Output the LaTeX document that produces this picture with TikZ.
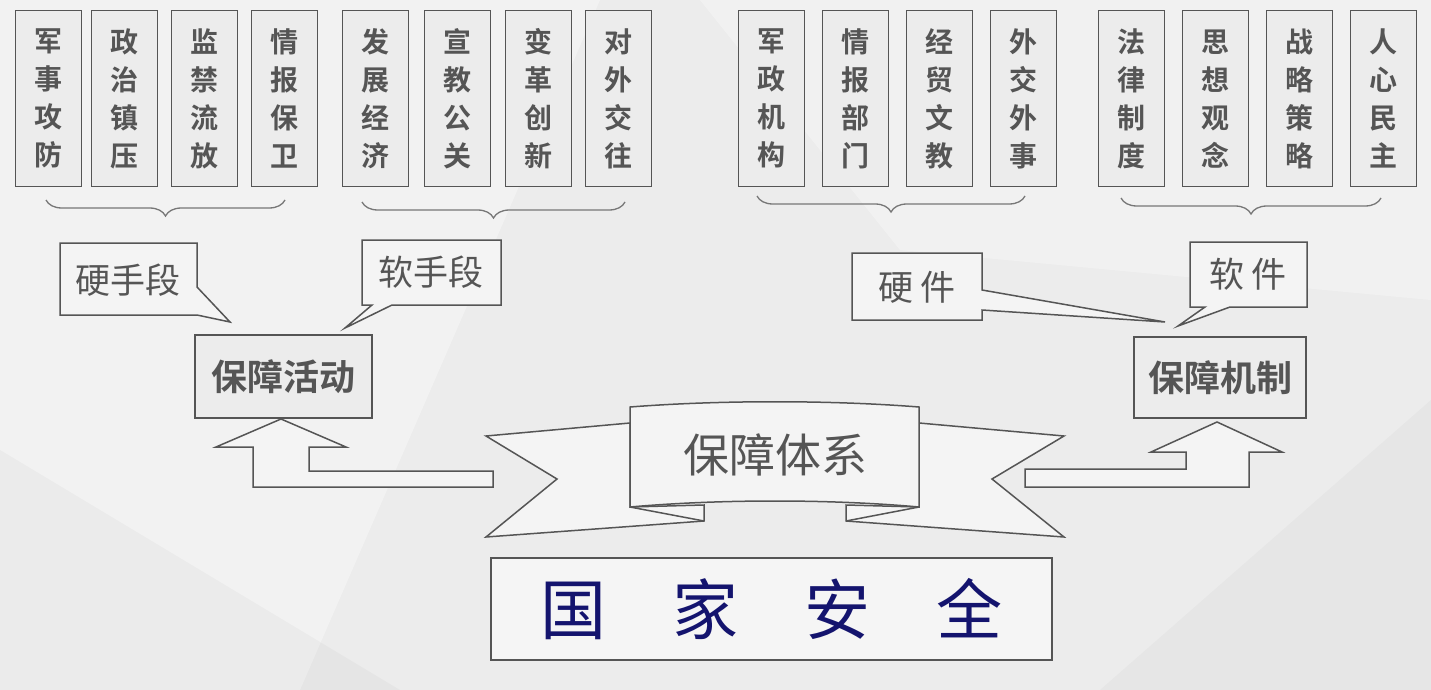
\documentclass[tikz,border=0pt]{standalone}
\usepackage{fontspec}
\setmainfont{Noto Sans CJK SC}
\newfontfamily\cjkb{Noto Sans CJK SC Bold}
\usetikzlibrary{decorations.pathreplacing}
\definecolor{ln}{RGB}{85,85,85}
\definecolor{bg}{RGB}{236,236,236}
\definecolor{navy}{RGB}{20,20,110}
\tikzset{
 vbox/.style={draw=ln,line width=1.3pt,fill=bg,minimum width=66pt,minimum height=176pt,inner sep=0pt,text=ln,align=center,font=\cjkb\fontsize{28}{38}\selectfont},
 shape line/.style={draw=ln,line width=1.5pt,fill=bg!60!white},
 brace line/.style={draw=ln!80,line width=1.3pt,decorate,decoration={brace,mirror,amplitude=16pt}},
 lbl/.style={inner sep=0pt,text=ln}
}
\begin{document}
\begin{tikzpicture}[x=1pt,y=-1pt]
\useasboundingbox (0,0) rectangle (1431,690);
\fill[bg] (0,0) rectangle (1431,690);
\fill[white,opacity=0.35] (0,0) -- (600,0) -- (300,690) -- (0,690) -- cycle;
\fill[white,opacity=0.3] (700,0) -- (1431,0) -- (1431,300) -- (900,250) -- cycle;
\fill[gray,opacity=0.06] (0,450) -- (400,690) -- (0,690) -- cycle;
\fill[gray,opacity=0.05] (1100,690) -- (1431,400) -- (1431,690) -- cycle;
% top boxes
\foreach \x/\t [count=\i] in {15/军\\事\\攻\\防,91/政\\治\\镇\\压,171/监\\禁\\流\\放,251/情\\报\\保\\卫,342/发\\展\\经\\济,424/宣\\教\\公\\关,505/变\\革\\创\\新,585/对\\外\\交\\往,738/军\\政\\机\\构,822/情\\报\\部\\门,906/经\\贸\\文\\教,990/外\\交\\外\\事,1098/法\\律\\制\\度,1182/思\\想\\观\\念,1266/战\\略\\策\\略,1350/人\\心\\民\\主}
  \node[vbox,anchor=north west] (b\i) at (\x,10) {\t};
% braces
\draw[brace line] (46,200) -- (285,200);
\draw[brace line] (362,202) -- (625,202);
\draw[brace line] (757,196) -- (1025,196);
\draw[brace line] (1121,198) -- (1381,198);
% callouts
\draw[shape line] (60,243) -- (197,243) -- (197,287) -- (230,322) -- (197,315) -- (60,315) -- cycle;
\node[lbl,font=\fontsize{35}{35}\selectfont] (c1) at (128,280) {硬手段};
\draw[shape line] (362,240) -- (501,240) -- (501,305) -- (392,305) -- (345,328) -- (372,305) -- (362,305) -- cycle;
\node[lbl,font=\fontsize{35}{35}\selectfont] (c2) at (431,272) {软手段};
\draw[shape line] (852,253) -- (982,253) -- (982,290) -- (1165,322) -- (982,310) -- (982,320) -- (852,320) -- cycle;
\node[lbl,font=\fontsize{35}{35}\selectfont] (c3) at (917,287) {硬\ 件};
\draw[shape line] (1190,242) -- (1307,242) -- (1307,307) -- (1230,307) -- (1178,326) -- (1205,307) -- (1190,307) -- cycle;
\node[lbl,font=\fontsize{35}{35}\selectfont] (c4) at (1248,274) {软\ 件};
% main boxes
\node[draw=ln,line width=1.5pt,fill=bg,minimum width=177pt,minimum height=83pt,text=ln,font=\cjkb\fontsize{36}{36}\selectfont] (act) at (283.5,376.5) {保障活动};
\node[draw=ln,line width=1.5pt,fill=bg,minimum width=172pt,minimum height=81pt,text=ln,font=\cjkb\fontsize{36}{36}\selectfont] (mech) at (1220,377.5) {保障机制};
% arrows
\draw[shape line] (281,419) -- (346,447) -- (309,447) -- (309,471) -- (493,471) -- (493,487) -- (253,487) -- (253,447) -- (216,447) -- cycle;
\draw[shape line] (1217,422) -- (1282,452) -- (1249,452) -- (1249,487) -- (1025,487) -- (1025,469) -- (1186,469) -- (1186,452) -- (1151,452) -- cycle;
% banner
\draw[shape line] (630,423) -- (486,436) -- (557,479) -- (486,537) -- (704,521) -- (704,505) -- (630,507) -- cycle;
\draw[shape line] (630,507) -- (704,521);
\draw[shape line] (919,423) -- (1064,436) -- (992,479) -- (1064,537) -- (846,521) -- (846,505) -- (919,507) -- cycle;
\draw[shape line] (919,507) -- (846,521);
\draw[shape line] (630,407) .. controls (720,400) and (830,400) .. (919,407) -- (919,507) .. controls (830,499) and (720,499) .. (630,507) -- cycle;
\node[lbl,font=\fontsize{46}{46}\selectfont] (sys) at (775,455) {保障体系};
% bottom
\node[draw=ln,line width=1.5pt,fill=bg!50!white,minimum width=561pt,minimum height=102pt,text=navy,font=\fontsize{66}{66}\selectfont] (nat) at (771.5,609) {国\quad 家\quad 安\quad 全};
\end{tikzpicture}
\end{document}
